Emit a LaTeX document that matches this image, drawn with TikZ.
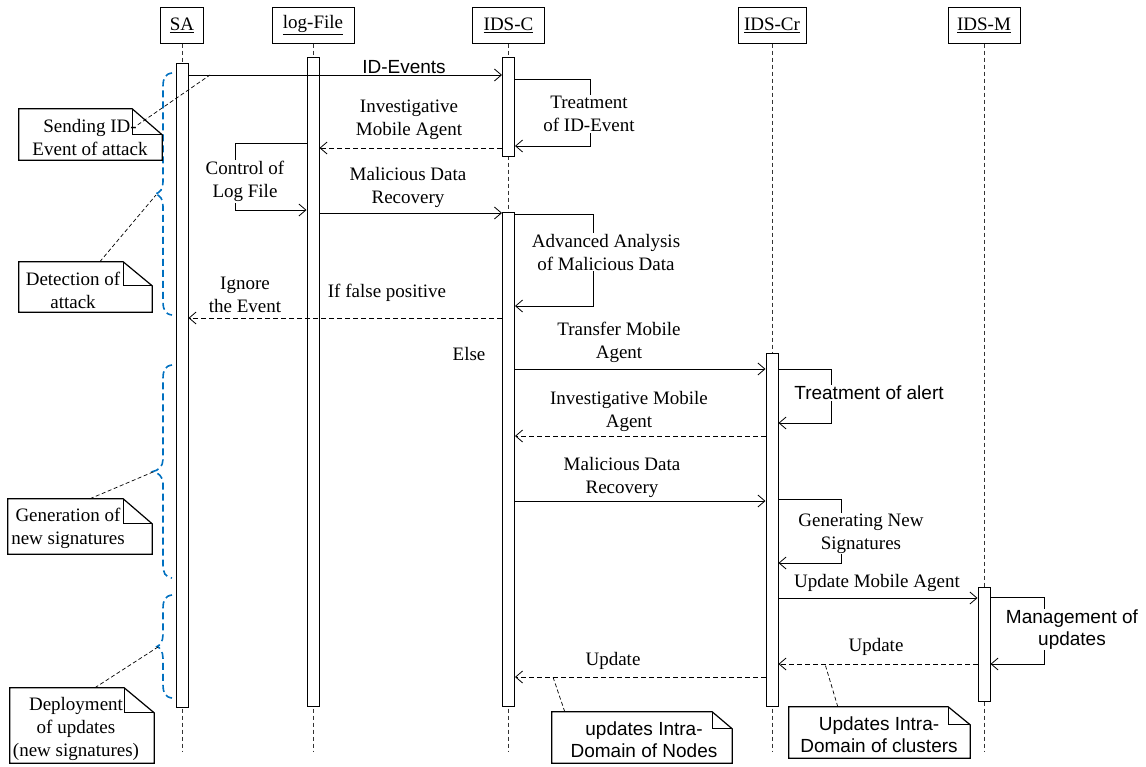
\documentclass[tikz,border=0pt]{standalone}
\usepackage{fontspec}
\setmainfont{Liberation Serif}
\setsansfont{Liberation Sans}
\usetikzlibrary{arrows.meta,calc}
\definecolor{braceblue}{RGB}{0,112,192}
\newcommand\notefold[3]{%
 \draw[notebord, fill=white] (#1.south west) -- (#1.north west) -- ($(#1.north east)+(-#2,0)$) -- ($(#1.north east)+(0,#3)$) -- (#1.south east) -- cycle;
 \draw[notebord] ($(#1.north east)+(-#2,0)$) -- ($(#1.north east)+(-#2,#3)$) -- ($(#1.north east)+(0,#3)$);}
\begin{document}
\begin{tikzpicture}[x=1pt,y=-1pt,
 every node/.style={font=\fontsize{19}{23}\selectfont, inner sep=0pt},
 head/.style={draw, line width=1pt, minimum height=36pt, fill=white},
 life/.style={line width=0.8pt, black!80, dash pattern=on 4pt off 3pt},
 bar/.style={draw, line width=1pt, fill=white, minimum width=12pt},
 msg/.style={line width=0.8pt, -{Straight Barb[length=7pt,width=12pt]}},
 reply/.style={msg, dash pattern=on 5pt off 3pt},
 lbl/.style={align=center},
 slbl/.style={align=center, font=\sffamily\fontsize{19}{22}\selectfont},
 cover/.style={fill=white, inner sep=1pt},
 notebord/.style={line width=1.2pt},
 notelink/.style={line width=0.7pt, dash pattern=on 4pt off 2.5pt},
 brace/.style={line width=1.6pt, color=braceblue, dash pattern=on 7pt off 4pt},
]
\useasboundingbox (0,0) rectangle (1146,766);

% heads
\node[head, minimum width=43pt] (hSA) at (182,25) {\underline{SA}};
\node[head, minimum width=82pt] (hL) at (313,25) {\underline{log-File}};
\node[head, minimum width=72pt] (hC) at (508.5,25) {\underline{IDS-C}};
\node[head, minimum width=68pt] (hCr) at (772,25) {\underline{IDS-Cr}};
\node[head, minimum width=72pt] (hM) at (984,25) {\underline{IDS-M}};

% lifelines
\draw[life] (hSA.south) -- (hSA.south |- 0,752);
\draw[life] (hL.south) -- (hL.south |- 0,752);
\draw[life] (hC.south) -- (hC.south |- 0,752);
\draw[life] (hCr.south) -- (hCr.south |- 0,752);
\draw[life] (hM.south) -- (hM.south |- 0,752);

% activation bars
\node[bar, minimum height=644pt] (bSA) at (182,385) {};
\node[bar, minimum height=649pt] (bL) at (313,381.5) {};
\node[bar, minimum height=99pt] (bC1) at (508.5,106.5) {};
\node[bar, minimum height=494pt] (bC2) at (508.5,459) {};
\node[bar, minimum height=353pt] (bCr) at (772,529.5) {};
\node[bar, minimum height=114pt] (bM) at (984,644) {};

% braces
\draw[brace] (172,73) .. controls (165,74) and (163,78) .. (163,87) -- (163,182) .. controls (163,189) and (160,193) .. (155,194) .. controls (160,195) and (163,199) .. (163,206) -- (163,301) .. controls (163,310) and (165,314) .. (172,315);
\draw[brace] (172,365) .. controls (165,366) and (163,370) .. (163,379) -- (163,459.5) .. controls (163,466.5) and (158,470.5) .. (153,471.5) .. controls (158,472.5) and (163,476.5) .. (163,483.5) -- (163,564) .. controls (163,573) and (165,577) .. (172,578);
\draw[brace] (172,595) .. controls (165,596) and (163,600) .. (163,609) -- (163,634.5) .. controls (163,641.5) and (160,645.5) .. (157,646.5) .. controls (160,647.5) and (163,651.5) .. (163,658.5) -- (163,684) .. controls (163,693) and (165,697) .. (172,698);
\coordinate (tip1) at (156,195);
\coordinate (tip2) at (153,472);
\coordinate (tip3) at (158,647);

% messages
\draw[msg] (bSA.east |- 0,75) -- (bC1.west |- 0,75);
\node[slbl] (lIDE) at (404,67.5) {ID-Events};

\draw[msg] (bC1.east |- 0,79) -- (590,79) -- (590,146) -- (bC1.east |- 0,146);
\node[lbl, cover] (lTr) at (589,114) {Treatment\\of ID-Event};

\draw[reply] (bC1.west |- 0,148) -- (bL.east |- 0,148);
\node[lbl] (lInv1) at (409,119.5) {Investigative\\Mobile Agent};

\draw[msg] (bL.west |- 0,143) -- (235,143) -- (235,210) -- (bL.west |- 0,210);
\node[lbl, cover] (lCtl) at (245,181.5) {Control of\\Log File};

\draw[msg] (bL.east |- 0,213) -- (bC2.west |- 0,213);
\node[lbl] (lMal1) at (408,187) {Malicious Data\\Recovery};

\draw[msg] (bC2.east |- 0,214) -- (593,214) -- (593,306) -- (bC2.east |- 0,306);
\node[lbl, cover] (lAdv) at (606,252) {Advanced Analysis\\of Malicious Data};

\draw[reply] (bC2.west |- 0,318) -- (bSA.east |- 0,318);
\node (lFP) at (387,293) {If false positive};
\node[lbl] (lIgn) at (245,294.5) {Ignore\\the Event};

\draw[msg] (bC2.east |- 0,369) -- (bCr.west |- 0,369);
\node[lbl] (lTM) at (619,342.5) {Transfer Mobile\\Agent};
\node (lElse) at (469,354) {Else};

\draw[msg] (bCr.east |- 0,369) -- (831,369) -- (831,423) -- (bCr.east |- 0,423);
\node[slbl, cover] (lTA) at (869,393) {Treatment of alert};

\draw[reply] (bCr.west |- 0,436) -- (bC2.east |- 0,436);
\node[lbl] (lInv2) at (629,411) {Investigative Mobile\\Agent};

\draw[msg] (bC2.east |- 0,501) -- (bCr.west |- 0,501);
\node[lbl] (lMal2) at (622,477) {Malicious Data\\Recovery};

\draw[msg] (bCr.east |- 0,499) -- (841,499) -- (841,563) -- (bCr.east |- 0,563);
\node[lbl, cover] (lGen) at (861,533.5) {Generating New\\Signatures};

\draw[msg] (bCr.east |- 0,598) -- (bM.west |- 0,598);
\node (lUMA) at (877,583) {Update Mobile Agent};

\draw[msg] (bM.east |- 0,597) -- (1044,597) -- (1044,664) -- (bM.east |- 0,664);
\node[slbl, cover] (lMU) at (1072,629.5) {Management of\\updates};

\draw[reply] (bM.west |- 0,664) -- (bCr.east |- 0,664);
\node (lUp1) at (876,647) {Update};

\draw[reply] (bCr.west |- 0,677) -- (bC2.east |- 0,677);
\node (lUp2) at (613,661) {Update};

\coordinate (cSend) at (210,75);
\coordinate (cUpN) at (553,677);
\coordinate (cUpC) at (825,664);

% notes
\node[minimum width=143pt, minimum height=51pt] (nSend) at (90.5,134.5) {};
\notefold{nSend}{30}{26}
\node[lbl] (tSend) at (90,137) {Sending ID-\\Event of attack};

\node[minimum width=133pt, minimum height=50pt] (nDet) at (85.5,287) {};
\notefold{nDet}{29}{24}
\node[lbl] (tDet) at (73,290.5) {Detection of\\attack};

\node[minimum width=144pt, minimum height=55pt] (nGen) at (80,526.5) {};
\notefold{nGen}{29}{25}
\node[lbl] (tGen) at (68,528.5) {Generation of\\new signatures};

\node[minimum width=144pt, minimum height=75pt] (nDep) at (82,725.5) {};
\notefold{nDep}{30}{25}
\node[lbl] (tDep) at (76,729) {Deployment\\of updates\\(new signatures)};

\node[minimum width=180pt, minimum height=51pt] (nUpN) at (642,737.5) {};
\notefold{nUpN}{20}{17}
\node[slbl] (tUpN) at (644,740) {updates Intra-\\Domain of Nodes};

\node[minimum width=181pt, minimum height=51pt] (nUpC) at (879.5,732.5) {};
\notefold{nUpC}{22}{18}
\node[slbl] (tUpC) at (879,734.5) {Updates Intra-\\Domain of clusters};

% note links
\draw[notelink] ($(nSend.north west)+(119,16)$) -- (cSend);
\draw[notelink] ($(nDet.north west)+(81,0)$) -- (tip1);
\draw[notelink] ($(nGen.north west)+(82,0)$) -- (tip2);
\draw[notelink] ($(nDep.north west)+(85,0)$) -- (tip3);
\draw[notelink] ($(nUpN.north west)+(13,0)$) -- (cUpN);
\draw[notelink] ($(nUpC.north west)+(49,0)$) -- (cUpC);
\end{tikzpicture}
\end{document}
